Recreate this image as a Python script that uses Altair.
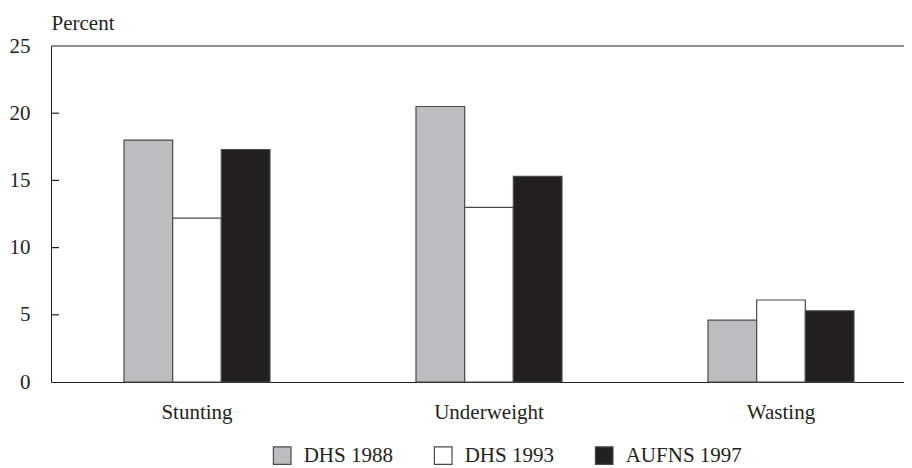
import altair as alt
import pandas as pd

categories = ["Stunting", "Underweight", "Wasting"]
surveys = ["DHS 1988", "DHS 1993", "AUFNS 1997"]
dhs_1988 = [18.0, 20.5, 4.6]
dhs_1993 = [12.2, 13.0, 6.1]
aufns_1997 = [17.3, 15.3, 5.3]
tick_values = [0, 5, 10, 15, 20, 25]
inner_ticks = [5, 10, 15, 20]
colors = ["#bcbdc0", "#ffffff", "#231f20"]

rows = []
for series, vals in zip(surveys, [dhs_1988, dhs_1993, aufns_1997]):
    for c, v in zip(categories, vals):
        rows.append({"category": c, "survey": series, "value": v})
df = pd.DataFrame(rows)
ticks_df = pd.DataFrame({"value": inner_ticks})
top_df = pd.DataFrame({"value": [25]})

W, H = 853, 336
FONT = "Liberation Serif"
INK = "#231f20"
EDGE = "#4a4a4a"
yscale = alt.Scale(domain=[0, 25], nice=False)

# band layout: step 292, first band starts 73px from the plot's left edge
span = W
step = 292.0
p_in = 0.5
p_out = (span / step - (3 - p_in)) / 2
align = 73.0 / (span - step * (3 - p_in))

yaxis = alt.Axis(
    values=tick_values, grid=False, ticks=False, tickSize=0,
    labelPadding=21, labelFontSize=21, labelColor=INK, labelFont=FONT,
    domainColor=INK, domainWidth=1,
    title="Percent", titleAngle=0, titleAlign="left", titleX=0,
    titleY=-17, titleBaseline="alphabetic", titleFontWeight="normal",
    titleFontSize=21, titleColor=INK, titleFont=FONT,
)

bars = alt.Chart(df).mark_bar(stroke=EDGE, strokeWidth=1.2).encode(
    x=alt.X(
        "category:N",
        sort=categories,
        title=None,
        scale=alt.Scale(paddingInner=p_in, paddingOuter=p_out, align=align),
        axis=alt.Axis(
            labelAngle=0, ticks=False, labelPadding=19, domainColor=INK,
            domainWidth=1, labelFontSize=21, labelColor=INK, labelFont=FONT,
        ),
    ),
    xOffset=alt.XOffset("survey:N", sort=surveys),
    y=alt.Y("value:Q", scale=yscale, axis=yaxis),
    color=alt.Color(
        "survey:N",
        sort=surveys,
        scale=alt.Scale(domain=surveys, range=colors),
        legend=alt.Legend(
            title=None, orient="none", legendX=220.7, legendY=399,
            direction="horizontal", symbolType="square", symbolSize=310,
            symbolStrokeColor=EDGE, symbolStrokeWidth=1.2, symbolOpacity=1,
            labelFontSize=21, labelColor=INK, labelFont=FONT, labelOffset=11,
            columnPadding=38, padding=0,
        ),
    ),
)

# inward-pointing y ticks
ticks = alt.Chart(ticks_df).mark_rule(color=INK, strokeWidth=1.2).encode(
    y=alt.Y("value:Q", scale=yscale, axis=yaxis),
    x=alt.value(0),
    x2=alt.value(8),
)

top = alt.Chart(top_df).mark_rule(color=INK, strokeWidth=1).encode(
    y=alt.Y("value:Q", scale=yscale, axis=yaxis),
    x=alt.value(0),
    x2=alt.value(W),
)

chart = alt.layer(bars, ticks, top).properties(
    width=W,
    height=H,
    padding={"left": 43, "top": 38, "right": 0, "bottom": 86},
    autosize=alt.AutoSizeParams(type="none"),
    background="white",
).configure_view(stroke=None).configure_axis(
    labelFont=FONT, titleFont=FONT
).configure_legend(labelFont=FONT)

chart.save("out.html", embed_options={"renderer": "svg", "actions": False})
